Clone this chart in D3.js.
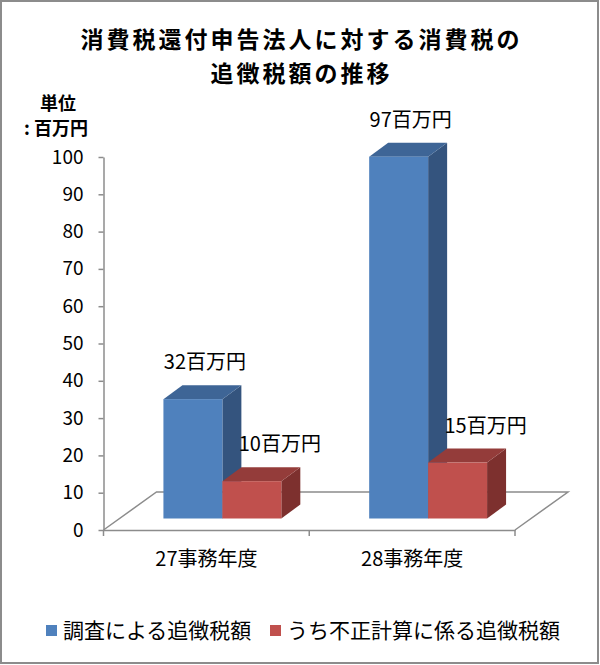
<!DOCTYPE html>
<html><head><meta charset="utf-8">
<script src="https://cdn.jsdelivr.net/npm/d3@7"></script>
<style>body{margin:0;background:#fff}svg{display:block}text{font-family:"Noto Sans CJK JP","Noto Sans",sans-serif;fill:#000}</style>
</head><body>
<script>
const categories = ["27事務年度", "28事務年度"];
const seriesNames = ["調査による追徴税額", "うち不正計算に係る追徴税額"];
const investigated = [32, 97];
const fraudulent = [10, 15];
const valueLabels = [["32百万円", "97百万円"], ["10百万円", "15百万円"]];
const yTicks = [0, 10, 20, 30, 40, 50, 60, 70, 80, 90, 100];
const titleLines = ["消費税還付申告法人に対する消費税の", "追徴税額の推移"];
const unitLines = ["単位", ": 百万円"];

const series = [investigated, fraudulent];
const colors = [
  {front:"#4F81BD", top:"#3E6596", side:"#34547E"},
  {front:"#C0504D", top:"#943C3A", side:"#7D302E"}
];

const W = 600, H = 665;
const svg = d3.select("body").append("svg").attr("width", W).attr("height", H);
svg.append("rect").attr("x",1).attr("y",1).attr("width",W-3).attr("height",H-3)
  .attr("fill","#fff").attr("stroke","#8c8c8c").attr("stroke-width",2);

const x = d3.scaleBand().domain(categories).range([103.5, 515]);
const y = d3.scaleLinear().domain([0, 100]).range([530, 157]);
const sx = d3.scaleBand().domain(d3.range(series.length)).range([0, x.bandwidth()*0.573]);

// floor
const fdx = 53, fdy = -38;
const axisColor = "#8c8c8c";
svg.append("path")
  .attr("d", `M${x.range()[0]},${y(0)} L${x.range()[0]+fdx},${y(0)+fdy} L${x.range()[1]+fdx},${y(0)+fdy} L${x.range()[1]},${y(0)}`)
  .attr("fill","none").attr("stroke",axisColor).attr("stroke-width",1.5);

// y axis
const yAxis = svg.append("g").attr("transform",`translate(${x.range()[0]},0)`)
  .call(d3.axisLeft(y).tickValues(yTicks).tickSize(5).tickPadding(15).tickSizeOuter(0));
yAxis.select(".domain").attr("stroke",axisColor).attr("stroke-width",1.5);
yAxis.selectAll(".tick line").attr("stroke",axisColor).attr("stroke-width",1.5);
yAxis.selectAll("text").attr("font-size",19).attr("font-family","'Liberation Sans','Noto Sans',sans-serif").style("fill","#000");

// x axis
const xAxis = svg.append("g").attr("transform",`translate(0,${y(0)})`)
  .call(d3.axisBottom(x).tickSize(0).tickPadding(22));
xAxis.select(".domain").attr("stroke",axisColor).attr("stroke-width",1.5);
xAxis.selectAll("text").attr("font-size",20).style("fill","#000");
const xt = [x.range()[0], ...categories.map(c => x(c)+x.bandwidth())];
xAxis.selectAll(".xtick").data(xt).enter().append("line")
  .attr("x1",d=>d).attr("x2",d=>d).attr("y1",0).attr("y2",6)
  .attr("stroke",axisColor).attr("stroke-width",1.5);

// bars
const bdx = 16, bdy = -11.5, ddx = 19, ddy = -14;
const groupOffset = (x.bandwidth() - sx.range()[1]) / 2;
const bars = svg.append("g");
const labelDx = [12, 28];
series.forEach((vals, si) => {
  vals.forEach((v, ci) => {
    const x0 = x(categories[ci]) + groupOffset + sx(si) + bdx;
    const x1 = x0 + sx.bandwidth();
    const yb = y(0) + bdy, yt = y(v) + bdy;
    const c = colors[si];
    bars.append("path").attr("d",`M${x1},${yt} L${x1+ddx},${yt+ddy} L${x1+ddx},${yb+ddy} L${x1},${yb} Z`).attr("fill",c.side);
    bars.append("path").attr("d",`M${x0},${yt} L${x0+ddx},${yt+ddy} L${x1+ddx},${yt+ddy} L${x1},${yt} Z`).attr("fill",c.top);
    bars.append("rect").attr("x",x0).attr("y",yt).attr("width",x1-x0).attr("height",yb-yt).attr("fill",c.front);
    svg.append("text").attr("x",(x0+x1)/2+labelDx[si]).attr("y",yt-30)
      .attr("text-anchor","middle").attr("font-size",20).text(valueLabels[si][ci]);
  });
});

// title
svg.selectAll(".title").data(titleLines).enter().append("text")
  .attr("x",W/2+1.5).attr("y",(d,i)=>48+i*34).attr("text-anchor","middle")
  .attr("font-size",23).attr("font-weight","bold").style("letter-spacing","3px").text(d=>d);

// unit
svg.append("text").attr("x",58).attr("y",110).attr("text-anchor","middle").attr("font-size",18).attr("font-weight","bold").text(unitLines[0]);
svg.append("text").attr("x",24).attr("y",135).attr("font-size",18).attr("font-weight","bold").text(unitLines[1]);

// legend
const lg = svg.append("g");
const legX = [46, 270];
seriesNames.forEach((n, i) => {
  lg.append("rect").attr("x",legX[i]).attr("y",625).attr("width",11).attr("height",11).attr("fill",colors[i].front);
  lg.append("text").attr("x",legX[i]+17).attr("y",638).attr("font-size",21).text(n);
});
</script>
</body></html>
